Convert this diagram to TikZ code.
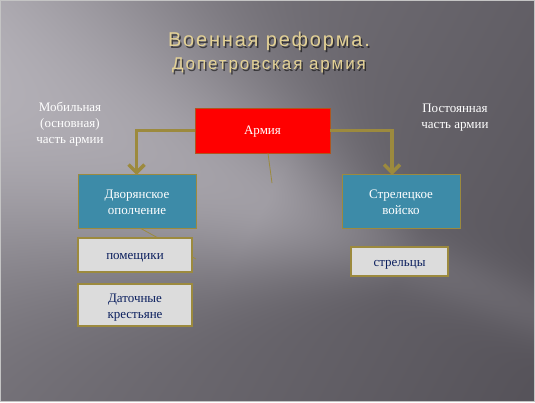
\documentclass[tikz,border=0pt]{standalone}
\usepackage{fontspec}
\setmainfont{Liberation Serif}
\newfontfamily\titlefont[LetterSpace=9]{Liberation Sans}
\newfontfamily\subtitlefont[LetterSpace=11]{Liberation Sans}
\usetikzlibrary{arrows.meta,calc}
\definecolor{framec}{HTML}{C4C4C4}
\definecolor{titlec}{HTML}{E3D195}
\definecolor{goldc}{HTML}{9C8A3E}
\definecolor{tealc}{HTML}{3D8BA8}
\definecolor{greyc}{HTML}{DCDCDC}
\definecolor{navyc}{HTML}{0B1F5E}
\definecolor{redborder}{HTML}{B0541E}
\pgfdeclarefunctionalshading{slidebg}{\pgfpoint{0pt}{0pt}}{\pgfpoint{535pt}{402pt}}{}{
402 exch sub
2 copy
0.876 mul exch -0.482 mul add
3 1 roll
0.482 mul exch 0.876 mul add
dup -0.12 mul 90 add
3 -1 roll
exch sub
1 index -0.35 mul 200 add
dup 30 sub abs exch 30 add add 2 div
div
dup mul
dup 50 sub abs neg exch 50 add add 2 div
neg 2.71828 exch exp
1 index 330 sub dup abs add 2 div
-0.001 mul 0.21 add
dup 0.06 sub abs exch 0.06 add add 2 div
mul
exch -0.00025 mul 0.5 add add
dup dup 0.015 add exch 0.012 sub exch
}
\tikzset{
  titletext/.style={text=titlec, inner sep=0pt, anchor=base},
  titleshadow/.style={text=black, text opacity=0.55, inner sep=0pt, anchor=base},
  sidetext/.style={text=white, align=center, inner sep=0pt, font=\fontsize{13}{16}\selectfont},
  boxbase/.style={inner sep=0pt, align=center, font=\fontsize{13}{16}\selectfont},
  oneline/.style={text height=12pt, text depth=3pt},
  twoline/.style={text height=29pt, text depth=3pt},
  redbox/.style={boxbase, fill=red, draw=redborder, line width=0.8pt, text=white},
  tealbox/.style={boxbase, fill=tealc, draw=goldc, line width=1pt, text=white},
  greybox/.style={boxbase, fill=greyc, draw=goldc, line width=1.5pt, text=navyc},
  conn/.style={draw=goldc, line width=3.5pt, -{Straight Barb[length=8pt,width=16pt]}},
  thinconn/.style={draw=goldc, line width=0.8pt}
}
\begin{document}
\begin{tikzpicture}[x=1pt,y=1pt]
\useasboundingbox (0,0) rectangle (535,402);
% background
\node[inner sep=0pt, anchor=south west] (bg) at (0,0) {\pgfuseshading{slidebg}};
\draw[framec, line width=1pt] (0.5,0.5) rectangle (534.5,401.5);

% title
\node[titleshadow, font=\titlefont\fontsize{20}{24}\selectfont] (t1s) at (270.5,353.5) {Военная реформа.};
\node[titleshadow, font=\subtitlefont\fontsize{17}{20}\selectfont] (t2s) at (270.5,330.5) {Допетровская армия};
\node[titletext, font=\titlefont\fontsize{20}{24}\selectfont] (t1) at (269,355) {Военная реформа.};
\node[titletext, font=\subtitlefont\fontsize{17}{20}\selectfont] (t2) at (269,332) {Допетровская армия};

% side texts
\node[sidetext] (mob) at (70,278) {Мобильная\\(основная)\\часть армии};
\node[sidetext] (post) at (455,284) {Постоянная\\часть армии};

% coordinates
\coordinate (aL) at (136.5,227);
\coordinate (aR) at (392,227);
\coordinate (thinEnd) at (272,219);
\coordinate (diagEnd) at (196,143);

% boxes
\node[redbox, oneline, minimum width=135pt, minimum height=45pt] (army) at (262.5,271.5) {Армия};

\draw[thinconn] ($(army.south)+(5.5,0)$) -- (thinEnd);
\draw[thinconn] (140,174) -- (diagEnd);

\node[tealbox, twoline, minimum width=118pt, minimum height=53pt] (dvor) at (137,200.5) {Дворянское\\ополчение};
\node[tealbox, twoline, minimum width=118pt, minimum height=53pt] (strel) at (401,200.5) {Стрелецкое\\войско};
\node[greybox, oneline, minimum width=114pt, minimum height=34pt] (pom) at (135,147) {помещики};
\node[greybox, twoline, minimum width=114pt, minimum height=42pt] (dat) at (135,97) {Даточные\\крестьяне};
\node[greybox, oneline, minimum width=97pt, minimum height=29pt] (strc) at (399.5,140.5) {стрельцы};

% connectors
\draw[conn] (army.west) -| (aL);
\draw[conn] (army.east) -| (aR);
\end{tikzpicture}
\end{document}
